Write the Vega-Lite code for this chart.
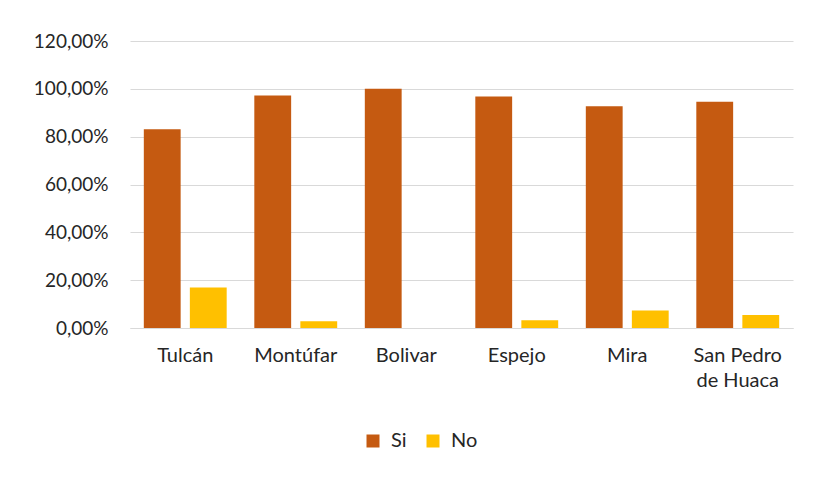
{
  "$schema": "https://vega.github.io/schema/vega-lite/v6.json",
  "width": 663,
  "height": 287,
  "autosize": "none",
  "padding": {"left": 130, "top": 41, "right": 21, "bottom": 149},
  "background": "white",
  "config": {
    "locale": {"number": {"decimal": ",", "thousands": ".", "grouping": [3], "currency": ["", " €"]}},
    "view": {"stroke": null},
    "font": "Lato"
  },
  "data": {
    "values": [
      {"canton": "Tulcán", "respuesta": "Si", "valor": 0.831},
      {"canton": "Tulcán", "respuesta": "No", "valor": 0.169},
      {"canton": "Montúfar", "respuesta": "Si", "valor": 0.972},
      {"canton": "Montúfar", "respuesta": "No", "valor": 0.028},
      {"canton": "Bolivar", "respuesta": "Si", "valor": 1.0},
      {"canton": "Bolivar", "respuesta": "No", "valor": 0.0},
      {"canton": "Espejo", "respuesta": "Si", "valor": 0.968},
      {"canton": "Espejo", "respuesta": "No", "valor": 0.032},
      {"canton": "Mira", "respuesta": "Si", "valor": 0.927},
      {"canton": "Mira", "respuesta": "No", "valor": 0.073},
      {"canton": "San Pedro de Huaca", "respuesta": "Si", "valor": 0.946},
      {"canton": "San Pedro de Huaca", "respuesta": "No", "valor": 0.054}
    ]
  },
  "mark": {"type": "bar"},
  "encoding": {
    "x": {
      "field": "canton",
      "type": "nominal",
      "sort": null,
      "scale": {"paddingInner": 0.25, "paddingOuter": 0.125},
      "axis": {
        "title": null,
        "labelAngle": 0,
        "labelFontSize": 20,
        "labelColor": "#262626",
        "labelPadding": 17,
        "labelLineHeight": 25,
        "ticks": false,
        "domainColor": "#D9D9D9",
        "labelExpr": "datum.value == 'San Pedro de Huaca' ? ['San Pedro', 'de Huaca'] : datum.value"
      }
    },
    "xOffset": {
      "field": "respuesta",
      "type": "nominal",
      "sort": ["Si", "No"],
      "scale": {"paddingInner": 0.2, "paddingOuter": 0}
    },
    "y": {
      "field": "valor",
      "type": "quantitative",
      "scale": {"domain": [0, 1.2]},
      "axis": {
        "title": null,
        "format": ".2%",
        "values": [0, 0.2, 0.4, 0.6, 0.8, 1.0, 1.2],
        "labelFontSize": 19,
        "labelColor": "#262626",
        "labelPadding": 22,
        "ticks": false,
        "domain": false,
        "gridColor": "#D9D9D9",
        "gridWidth": 1
      }
    },
    "color": {
      "field": "respuesta",
      "type": "nominal",
      "sort": ["Si", "No"],
      "scale": {"domain": ["Si", "No"], "range": ["#C55A11", "#FFC000"]},
      "legend": {
        "title": null,
        "orient": "none",
        "legendX": 233,
        "legendY": 390,
        "direction": "horizontal",
        "symbolType": "square",
        "symbolSize": 169,
        "symbolStrokeWidth": 0,
        "labelFontSize": 20,
        "labelColor": "#262626",
        "labelOffset": 8,
        "columnPadding": 16
      }
    }
  }
}
